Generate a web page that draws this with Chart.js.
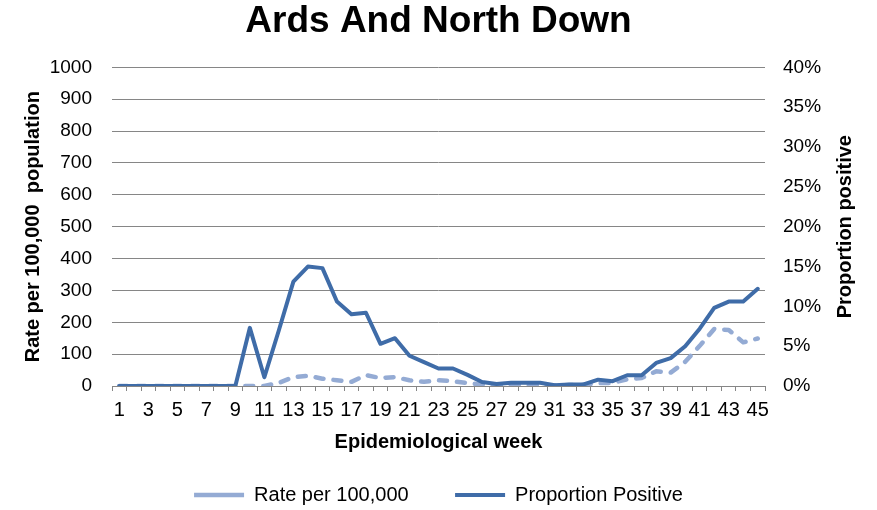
<!DOCTYPE html>
<html>
<head>
<meta charset="utf-8">
<script src="https://cdn.jsdelivr.net/npm/chart.js@4/dist/chart.umd.min.js"></script>
<style>
  html, body { margin: 0; padding: 0; background: #fff; }
  #wrap { width: 877px; height: 510px; position: relative; }
</style>
</head>
<body>
<div id="wrap"><canvas id="fluChart"></canvas></div>
<script>
// week numbers 1..45
const weeks = [
    1, 2, 3, 4, 5, 6, 7, 8, 9, 10, 11, 12, 13, 14, 15, 16, 17, 18, 19, 20, 21, 22, 23,
    24, 25, 26, 27, 28, 29, 30, 31, 32, 33, 34, 35, 36, 37, 38, 39, 40, 41, 42, 43, 44, 45,
];

// rate per 100,000 population (left axis)
const ratePer100k = [
    0, 0, 0, 0, 0, 0, 0, 0, 0, 0, 0, 10, 28, 32, 23, 18, 13, 34, 25, 28, 18, 13, 18,
    15, 9, 5, 3, 4, 4, 3, 2, 3, 4, 9, 10, 21, 25, 46, 42, 76, 126, 179, 176, 137, 149,
];

// proportion positive in % (right axis)
const proportionPositive = [
    0, 0, 0, 0, 0, 0, 0, 0, 0, 7.3, 1.1, 7.0, 13.1, 15.0, 14.8, 10.6, 9.0, 9.2, 5.3, 6.0, 3.8, 3.0, 2.2,
    2.2, 1.4, 0.5, 0.25, 0.4, 0.4, 0.4, 0.1, 0.2, 0.2, 0.8, 0.6, 1.35, 1.35, 2.9, 3.5, 5.0, 7.2, 9.8, 10.6, 10.6, 12.2,
];

const rateTicks = [0, 100, 200, 300, 400, 500, 600, 700, 800, 900, 1000];
const percentTicks = [0, 5, 10, 15, 20, 25, 30, 35, 40];

const Color = {
    Solid: '#3F6CA8',
    Dashed: '#94ABD4',
    Grid: '#868686',
    Text: '#000000',
};

const fontFamily = '"Liberation Sans", Arial, sans-serif';

function getDataSetEntry(label, data, color, dashed, axis) {
    return {
        label,
        data,
        yAxisID: axis,
        fill: false,
        tension: 0,
        borderColor: color,
        backgroundColor: color,
        borderWidth: dashed ? 4.5 : 4,
        borderDash: dashed ? [8, 10] : [],
        borderCapStyle: 'round',
        borderJoinStyle: 'round',
        pointRadius: 0,
        pointHoverRadius: 0,
    };
}

// right axis title reads bottom-to-top, like the left one
const rightTitlePlugin = {
    id: 'rightTitle',
    afterDraw(chart) {
        const { ctx, chartArea } = chart;
        ctx.save();
        ctx.translate(845, (chartArea.top + chartArea.bottom) / 2);
        ctx.rotate(-Math.PI / 2);
        ctx.font = 'bold 20px ' + fontFamily;
        ctx.fillStyle = Color.Text;
        ctx.textAlign = 'center';
        ctx.textBaseline = 'middle';
        ctx.fillText('Proportion positive', 0, 0);
        ctx.restore();
    },
};

function renderChart() {
    const ctx = document.getElementById('fluChart').getContext('2d');
    Chart.defaults.font.family = fontFamily;
    Chart.defaults.color = Color.Text;

    new Chart(ctx, {
        type: 'line',
        data: {
            labels: weeks,
            datasets: [
                getDataSetEntry('Proportion Positive', proportionPositive, Color.Solid, false, 'y1'),
                getDataSetEntry('Rate per 100,000', ratePer100k, Color.Dashed, true, 'y'),
            ],
        },
        options: {
            responsive: true,
            maintainAspectRatio: false,
            animation: false,
            layout: { padding: { top: 0, left: 0, right: 0, bottom: -5 } },
            plugins: {
                title: {
                    display: true,
                    text: 'Ards And North Down',
                    color: Color.Text,
                    font: { size: 37, weight: 'bold' },
                    padding: { top: 0, bottom: 23 },
                },
                legend: {
                    position: 'bottom',
                    labels: {
                        usePointStyle: true,
                        pointStyle: 'line',
                        pointStyleWidth: 50,
                        padding: 2,
                        color: Color.Text,
                        font: { size: 20 },
                        sort: (a, b) => b.datasetIndex - a.datasetIndex,
                        generateLabels: (chart) => {
                            const items = Chart.defaults.plugins.legend.labels.generateLabels(chart);
                            items.forEach((item) => {
                                if (item.datasetIndex === 1) item.text = item.text + '        ';
                            });
                            return items;
                        },
                    },
                },
                tooltip: { enabled: false },
            },
            scales: {
                x: {
                    type: 'category',
                    offset: true,
                    afterFit: (scale) => { scale.height = 97; },
                    grid: {
                        display: true,
                        offset: true,
                        drawOnChartArea: false,
                        drawTicks: true,
                        tickLength: 5,
                        color: Color.Grid,
                    },
                    border: { display: true, color: Color.Grid },
                    ticks: {
                        autoSkip: false,
                        maxRotation: 0,
                        padding: 7,
                        color: Color.Text,
                        font: { size: 20 },
                        callback: (val, i) => (i % 2 === 0 ? weeks[i] : ''),
                    },
                    title: {
                        display: true,
                        text: 'Epidemiological week',
                        color: Color.Text,
                        font: { size: 20, weight: 'bold' },
                        padding: { top: 0, bottom: 29 },
                    },
                },
                y: {
                    position: 'left',
                    min: 0,
                    max: 1000,
                    afterFit: (scale) => { scale.width = 112; },
                    afterBuildTicks: (scale) => { scale.ticks = rateTicks.map((v) => ({ value: v })); },
                    grid: { color: Color.Grid, drawTicks: false, lineWidth: 1 },
                    border: { display: false },
                    ticks: {
                        padding: 20,
                        color: Color.Text,
                        font: { size: 19 },
                        callback: (v) => String(v),
                    },
                    title: {
                        display: true,
                        text: 'Rate per 100,000  population',
                        color: Color.Text,
                        font: { size: 20, weight: 'bold' },
                        padding: { top: 21, bottom: 0 },
                    },
                },
                y1: {
                    position: 'right',
                    min: 0,
                    max: 40,
                    afterFit: (scale) => { scale.width = 112; },
                    afterBuildTicks: (scale) => { scale.ticks = percentTicks.map((v) => ({ value: v })); },
                    grid: { drawOnChartArea: false, drawTicks: false },
                    border: { display: false },
                    ticks: {
                        padding: 18,
                        color: Color.Text,
                        font: { size: 19 },
                        callback: (v) => v + '%',
                    },
                    title: { display: false },
                },
            },
        },
        plugins: [rightTitlePlugin],
    });
}

renderChart();
</script>
</body>
</html>
